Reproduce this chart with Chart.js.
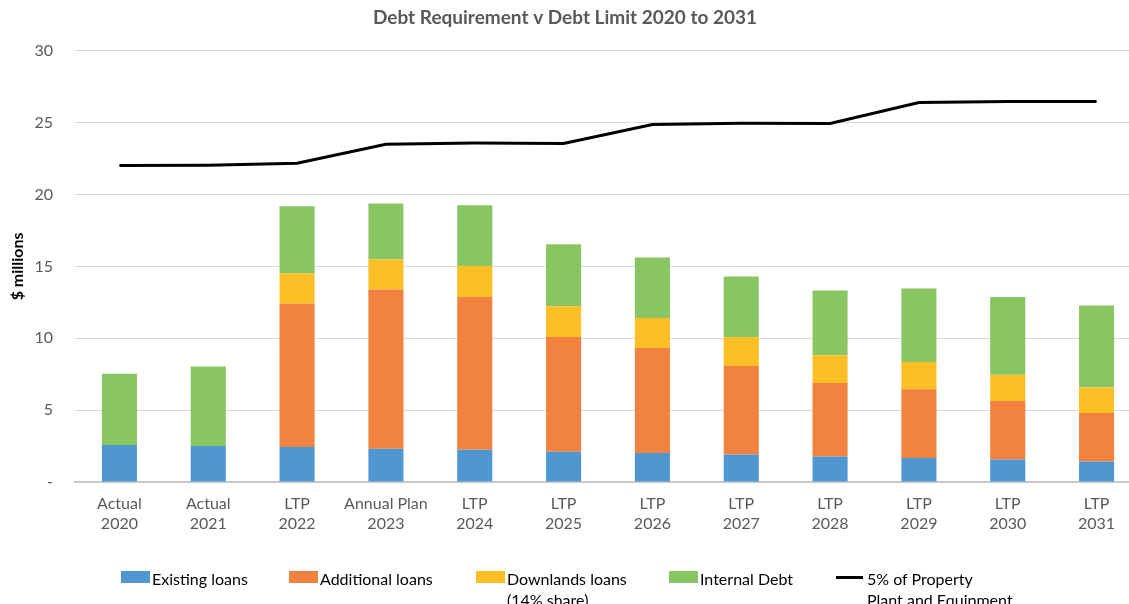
<!DOCTYPE html>
<html>
<head>
<meta charset="utf-8">
<script src="https://cdn.jsdelivr.net/npm/chart.js@4"></script>
<style>
  body { margin: 0; background: #fff; }
  #wrap { position: relative; width: 1129px; height: 604px; overflow: hidden; font-family: Lato, "Open Sans", sans-serif; }
  #chart { position: absolute; left: -11px; top: 0; }
  .leg { position: absolute; top: 568px; font-size: 16px; line-height: 21px; color: #000; }
  .leg .box { position: absolute; left: 0; top: 3px; width: 29px; height: 12px; }
  .leg .ln { position: absolute; left: 0; top: 8px; width: 27px; height: 3px; background: #000; }
  .leg span.t { display: block; padding-left: 31px; white-space: nowrap; }
</style>
</head>
<body>
<div id="wrap">
  <!-- canvas is wider than the page and shifted left: the plot area runs past the right edge -->
  <canvas id="chart" width="1152" height="604"></canvas>
  <div id="legend"></div>
</div>
<script>
var categories = [
    ['Actual', '2020'], ['Actual', '2021'], ['LTP', '2022'], ['Annual Plan', '2023'],
    ['LTP', '2024'], ['LTP', '2025'], ['LTP', '2026'], ['LTP', '2027'],
    ['LTP', '2028'], ['LTP', '2029'], ['LTP', '2030'], ['LTP', '2031']
];
var existingLoans = [2.57, 2.51, 2.44, 2.32, 2.25, 2.11, 2.02, 1.91, 1.77, 1.67, 1.56, 1.42];
var additionalLoans = [0, 0, 9.97, 11.07, 10.62, 7.98, 7.31, 6.16, 5.12, 4.78, 4.08, 3.38];
var downlandsLoans = [0, 0, 2.11, 2.09, 2.16, 2.14, 2.08, 2.02, 1.93, 1.90, 1.83, 1.77];
var internalDebt = [4.97, 5.52, 4.67, 3.89, 4.23, 4.31, 4.21, 4.20, 4.50, 5.11, 5.40, 5.71];
var debtLimit = [22.02, 22.04, 22.18, 23.50, 23.59, 23.55, 24.87, 24.96, 24.94, 26.40, 26.47, 26.47];

var legendItems = [
    { text: ['Existing loans'], color: '#5097d2', left: 121 },
    { text: ['Additional loans'], color: '#f1823f', left: 289 },
    { text: ['Downlands loans', '(14% share)'], color: '#fdbf26', left: 476 },
    { text: ['Internal Debt'], color: '#89c663', left: 669 },
    { text: ['5% of Property', 'Plant and Equipment'], color: '#000', left: 836, line: true }
];

// html legend, because two of the labels wrap onto a second line
var legendEl = document.getElementById('legend');
legendItems.forEach(function (item) {
    var div = document.createElement('div');
    div.className = 'leg';
    div.style.left = item.left + 'px';
    var mark = document.createElement('div');
    mark.className = item.line ? 'ln' : 'box';
    if (!item.line) mark.style.background = item.color;
    div.appendChild(mark);
    item.text.forEach(function (t) {
        var s = document.createElement('span');
        s.className = 't';
        s.textContent = t;
        div.appendChild(s);
    });
    legendEl.appendChild(div);
});

var ctx = document.getElementById('chart');
var font = 'Lato, "Open Sans", sans-serif';

function bar(label, data, color) {
    return {
        type: 'bar',
        label: label,
        data: data,
        backgroundColor: color,
        borderWidth: 0,
        stack: 'debt',
        order: 1,
        categoryPercentage: 1,
        barPercentage: 0.395
    };
}

var myChart = new Chart(ctx, {
    data: {
        labels: categories,
        datasets: [
            {
                type: 'line',
                label: '5% of Property Plant and Equipment',
                data: debtLimit,
                borderColor: '#000',
                borderWidth: 3,
                pointRadius: 0,
                tension: 0,
                fill: false,
                order: 0
            },
            bar('Existing loans', existingLoans, '#5097d2'),
            bar('Additional loans', additionalLoans, '#f1823f'),
            bar('Downlands loans (14% share)', downlandsLoans, '#fdbf26'),
            bar('Internal Debt', internalDebt, '#89c663')
        ]
    },
    options: {
        responsive: false,
        animation: false,
        layout: { padding: 0 },
        plugins: {
            legend: { display: false },
            tooltip: { enabled: false },
            title: {
                display: true,
                text: 'Debt Requirement v Debt Limit 2020 to 2031',
                color: '#595959',
                font: { family: font, size: 19, weight: 'bold' },
                padding: { top: 6, bottom: 22 }
            }
        },
        scales: {
            x: {
                stacked: true,
                grid: { display: false, drawTicks: false },
                border: { color: '#c8c8c8', width: 2 },
                ticks: {
                    color: '#595959',
                    font: { family: font, size: 16, lineHeight: '20px' },
                    padding: 12,
                    maxRotation: 0,
                    autoSkip: false
                },
                afterFit: function (s) { s.height = 122; }
            },
            y: {
                stacked: true,
                min: 0,
                max: 30,
                grid: { color: '#d9d9d9', drawTicks: false },
                border: { display: false },
                ticks: {
                    stepSize: 5,
                    color: '#595959',
                    font: { family: font, size: 16 },
                    padding: 22,
                    callback: function (v) { return v === 0 ? '-' : v; }
                },
                title: {
                    display: true,
                    text: '$ millions',
                    color: '#000',
                    font: { family: font, size: 16, weight: 'bold' },
                    padding: { top: 19, bottom: 0 }
                },
                afterFit: function (s) { s.width = 86; }
            }
        }
    }
});
</script>
</body>
</html>
